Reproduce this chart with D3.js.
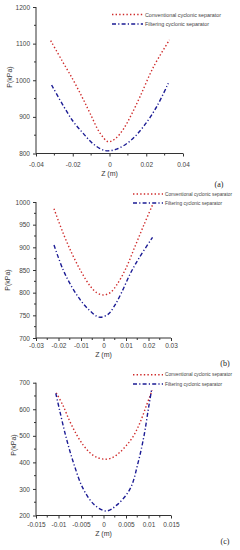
<!DOCTYPE html>
<html>
<head>
<meta charset="utf-8">
<script src="https://cdn.jsdelivr.net/npm/d3@7"></script>
<style>
  body { margin: 0; background: #fff; }
  svg { display: block; }
</style>
</head>
<body>
<div id="chart"></div>
<script>
// ---- data ----
let seriesNames = ["Conventional cyclonic separator", "Filtering cyclonic separator"];

// panel (a)
let aConvZ = [-0.032, -0.026, -0.0197, -0.0148, -0.0106, -0.0052, -0.0006, 0.0035, 0.0075, 0.0118, 0.0166, 0.0238, 0.0326];
let aConvP = [1108, 1055, 1000, 953, 910, 856, 832, 842, 866, 905, 955, 1035, 1110];
let aFiltZ = [-0.0315, -0.0251, -0.0197, -0.0143, -0.0088, -0.0024, 0.0039, 0.0112, 0.0184, 0.0257, 0.032];
let aFiltP = [987, 930, 887, 855, 826, 808, 812, 834, 873, 928, 992];

// panel (b)
let bConvZ = [-0.022, -0.018, -0.014, -0.010, -0.006, -0.003, 0, 0.003, 0.006, 0.010, 0.014, 0.018, 0.022];
let bConvP = [985, 932, 886, 847, 815, 800, 795, 800, 818, 854, 902, 950, 996];
let bFiltZ = [-0.022, -0.018, -0.014, -0.010, -0.006, -0.002, 0.002, 0.005, 0.008, 0.012, 0.016, 0.0218];
let bFiltP = [905, 851, 812, 782, 760, 746, 752, 772, 800, 843, 878, 922];

// panel (c)
let cConvZ = [-0.0105, -0.009, -0.0075, -0.006, -0.0045, -0.003, -0.0015, 0.0003, 0.002, 0.0035, 0.005, 0.0065, 0.008, 0.0095, 0.0108];
let cConvP = [662, 614, 555, 505, 465, 436, 419, 412, 418, 436, 462, 495, 545, 612, 672];
let cFiltZ = [-0.0106, -0.0098, -0.0084, -0.0067, -0.0045, -0.002, 0.0006, 0.003, 0.0059, 0.0077, 0.009, 0.00996, 0.0107];
let cFiltP = [660, 600, 500, 400, 300, 240, 217, 240, 300, 400, 500, 600, 675];

// axis ticks
let aXTicks = [-0.04, -0.02, 0, 0.02, 0.04];
let aYTicks = [800, 900, 1000, 1100, 1200];
let bXTicks = [-0.03, -0.02, -0.01, 0, 0.01, 0.02, 0.03];
let bYTicks = [700, 750, 800, 850, 900, 950, 1000];
let cXTicks = [-0.015, -0.01, -0.005, 0, 0.005, 0.01, 0.015];
let cYTicks = [200, 300, 400, 500, 600, 700];

let panelLabels = ["(a)", "(b)", "(c)"];

// ---- layout ----
let colors = ["#cf2b2b", "#1b1b94"];
let dashes = ["1.4,2.2", "4,2.2,1.2,2.2"];

let panels = [
    {
        series: [[aConvZ, aConvP], [aFiltZ, aFiltP]],
        xTicks: aXTicks, yTicks: aYTicks, label: panelLabels[0],
        x0: 36, x1: 183, y0: 153.5, y1: 7,
        xLabOff: 12, zY: 175.5, pX: 10, pY: 77,
        legX: 112, legW: 31, legY: 14.5, legGap: 9.5, legText: [76, 64], legFont: 6,
        capX: 219, capY: 187
    },
    {
        series: [[bConvZ, bConvP], [bFiltZ, bFiltP]],
        xTicks: bXTicks, yTicks: bYTicks, label: panelLabels[1],
        x0: 36, x1: 171, y0: 338, y1: 202,
        xLabOff: 9, zY: 357, pX: 7.5, pY: 280,
        legX: 133, legW: 30, legY: 194, legGap: 9, legText: [67, 57], legFont: 5,
        capX: 225, capY: 366
    },
    {
        series: [[cConvZ, cConvP], [cFiltZ, cFiltP]],
        xTicks: cXTicks, yTicks: cYTicks, label: panelLabels[2],
        x0: 36, x1: 171, y0: 515.5, y1: 382.7,
        xLabOff: 10, zY: 535.5, pX: 14, pY: 445,
        legX: 133, legW: 30, legY: 374.7, legGap: 9.3, legText: [67, 57], legFont: 5,
        capX: 225, capY: 544
    }
];

let svg = d3.select("#chart").append("svg")
    .attr("width", 240)
    .attr("height", 550);

let tickFont = "'Liberation Sans', Arial, sans-serif";
let axisColor = "#333";

function midpoints(ticks) {
    let out = [];
    for (let i = 0; i < ticks.length - 1; i++) out.push((ticks[i] + ticks[i + 1]) / 2);
    return out;
}

function render_panel(p) {
    let x = d3.scaleLinear()
        .domain([p.xTicks[0], p.xTicks[p.xTicks.length - 1]])
        .range([p.x0, p.x1]);
    let y = d3.scaleLinear()
        .domain([p.yTicks[0], p.yTicks[p.yTicks.length - 1]])
        .range([p.y0, p.y1]);

    let g = svg.append("g");

    // x axis
    let gx = g.append("g")
        .attr("transform", "translate(0," + p.y0 + ")")
        .call(d3.axisBottom(x).tickValues(p.xTicks).tickSize(3).tickPadding(p.xLabOff - 6.5)
            .tickFormat(function(d) { return String(+d.toPrecision(6)); }));
    gx.append("g").selectAll("line")
        .data(midpoints(p.xTicks))
        .enter().append("line")
        .attr("x1", function(d) { return x(d); })
        .attr("x2", function(d) { return x(d); })
        .attr("y1", 0).attr("y2", 2)
        .attr("stroke", axisColor);

    // y axis
    let gy = g.append("g")
        .attr("transform", "translate(" + p.x0 + ",0)")
        .call(d3.axisLeft(y).tickValues(p.yTicks).tickSize(3).tickPadding(3)
            .tickFormat(function(d) { return String(d); }));
    gy.append("g").selectAll("line")
        .data(midpoints(p.yTicks))
        .enter().append("line")
        .attr("y1", function(d) { return y(d); })
        .attr("y2", function(d) { return y(d); })
        .attr("x1", 0).attr("x2", -2)
        .attr("stroke", axisColor);

    [gx, gy].forEach(function(a) {
        a.select(".domain").attr("stroke", axisColor).attr("d",
            a === gx ? "M" + p.x0 + ",0H" + p.x1 : "M0," + p.y0 + "V" + p.y1);
        a.selectAll(".tick line").attr("stroke", axisColor);
        a.selectAll("text")
            .attr("font-family", tickFont)
            .attr("font-size", "6.5px")
            .attr("fill", "#444");
    });

    // axis titles
    g.append("text")
        .attr("x", (p.x0 + p.x1) / 2)
        .attr("y", p.zY)
        .attr("text-anchor", "middle")
        .attr("font-family", tickFont)
        .attr("font-size", "7px")
        .attr("fill", "#333")
        .text("Z (m)");

    g.append("text")
        .attr("transform", "translate(" + p.pX + "," + p.pY + ") rotate(-90)")
        .attr("text-anchor", "middle")
        .attr("dy", "0.35em")
        .attr("font-family", tickFont)
        .attr("font-size", "7px")
        .attr("fill", "#333")
        .text("P(kPa)");

    // curves
    let line = d3.line()
        .x(function(d) { return x(d[0]); })
        .y(function(d) { return y(d[1]); })
        .curve(d3.curveCatmullRom.alpha(0.5));

    p.series.forEach(function(s, i) {
        let pts = s[0].map(function(z, j) { return [z, s[1][j]]; });
        g.append("path")
            .datum(pts)
            .attr("fill", "none")
            .attr("stroke", colors[i])
            .attr("stroke-width", 1.4)
            .attr("stroke-dasharray", dashes[i])
            .attr("d", line);
    });

    // legend
    let legend = g.append("g")
        .selectAll("g")
        .data(seriesNames)
        .enter().append("g")
        .attr("transform", function(d, i) { return "translate(" + p.legX + "," + (p.legY + i * p.legGap) + ")"; });

    legend.append("line")
        .attr("x1", 0).attr("x2", p.legW)
        .attr("y1", 0).attr("y2", 0)
        .attr("stroke", function(d, i) { return colors[i]; })
        .attr("stroke-width", 1.4)
        .attr("stroke-dasharray", function(d, i) { return dashes[i]; });

    legend.append("text")
        .attr("x", p.legW + 2)
        .attr("dy", "0.35em")
        .attr("font-family", tickFont)
        .attr("font-size", p.legFont + "px")
        .attr("textLength", function(d, i) { return p.legText[i]; })
        .attr("lengthAdjust", "spacingAndGlyphs")
        .attr("fill", "#444")
        .text(function(d) { return d; });

    // panel caption
    g.append("text")
        .attr("x", p.capX)
        .attr("y", p.capY)
        .attr("text-anchor", "middle")
        .attr("font-family", "'Liberation Serif', 'Times New Roman', serif")
        .attr("font-size", "8px")
        .attr("fill", "#222")
        .text(p.label);
}

panels.forEach(render_panel);
</script>
</body>
</html>
